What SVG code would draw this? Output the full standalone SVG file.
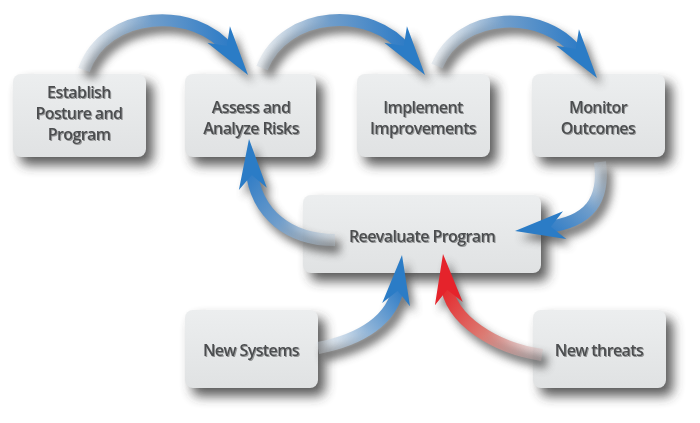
<svg xmlns="http://www.w3.org/2000/svg" width="700" height="423" viewBox="0 0 700 423">
<defs>
  <filter id="bshadow" x="-20%" y="-20%" width="150%" height="160%">
    <feGaussianBlur stdDeviation="6"/>
  </filter>
  <filter id="ashadow" x="-20%" y="-20%" width="150%" height="160%">
    <feGaussianBlur stdDeviation="4.5"/>
  </filter>
  <filter id="tshadow" x="-10%" y="-30%" width="120%" height="160%">
    <feGaussianBlur in="SourceAlpha" stdDeviation="0.6"/>
    <feOffset dx="0.6" dy="0.8" result="o"/>
    <feFlood flood-color="#000" flood-opacity="0.35"/>
    <feComposite in2="o" operator="in"/>
    <feMerge><feMergeNode/><feMergeNode in="SourceGraphic"/></feMerge>
  </filter>
  <linearGradient id="boxfill" x1="0" y1="0" x2="0" y2="1">
    <stop offset="0" stop-color="#eceeef"/>
    <stop offset="1" stop-color="#e0e2e3"/>
  </linearGradient>
  <linearGradient id="g1" gradientUnits="userSpaceOnUse" x1="84" y1="70" x2="230" y2="51">
    <stop offset="0" stop-color="#b9c9d8" stop-opacity="0.3"/>
    <stop offset="0.5" stop-color="#6f9dcb"/>
    <stop offset="1" stop-color="#2f7cc6"/>
  </linearGradient>
  <linearGradient id="g2" gradientUnits="userSpaceOnUse" x1="262" y1="68" x2="407" y2="51">
    <stop offset="0" stop-color="#b9c9d8" stop-opacity="0.3"/>
    <stop offset="0.5" stop-color="#6f9dcb"/>
    <stop offset="1" stop-color="#2f7cc6"/>
  </linearGradient>
  <linearGradient id="g3" gradientUnits="userSpaceOnUse" x1="437" y1="66" x2="579" y2="54">
    <stop offset="0" stop-color="#b9c9d8" stop-opacity="0.3"/>
    <stop offset="0.5" stop-color="#6f9dcb"/>
    <stop offset="1" stop-color="#2f7cc6"/>
  </linearGradient>
  <linearGradient id="g4" gradientUnits="userSpaceOnUse" x1="600" y1="162" x2="545" y2="228">
    <stop offset="0" stop-color="#b9c9d8" stop-opacity="0.3"/>
    <stop offset="0.5" stop-color="#6f9dcb"/>
    <stop offset="1" stop-color="#2f7cc6"/>
  </linearGradient>
  <linearGradient id="g5" gradientUnits="userSpaceOnUse" x1="335" y1="240" x2="251" y2="169">
    <stop offset="0" stop-color="#b9c9d8" stop-opacity="0.3"/>
    <stop offset="0.5" stop-color="#6f9dcb"/>
    <stop offset="1" stop-color="#2f7cc6"/>
  </linearGradient>
  <linearGradient id="g6" gradientUnits="userSpaceOnUse" x1="318" y1="348" x2="398" y2="285">
    <stop offset="0" stop-color="#d6e0ea" stop-opacity="0.3"/>
    <stop offset="0.5" stop-color="#8fb4d8"/>
    <stop offset="1" stop-color="#2f7cc6"/>
  </linearGradient>
  <linearGradient id="g7" gradientUnits="userSpaceOnUse" x1="542" y1="355" x2="446" y2="284">
    <stop offset="0" stop-color="#d8b8b8" stop-opacity="0.3"/>
    <stop offset="0.5" stop-color="#dc7a72"/>
    <stop offset="1" stop-color="#e5282c"/>
  </linearGradient>
  <path id="head" d="M0,0 L-50,-14 L-36,0 L-50,14 Z"/>
  <style>
    .box { fill: url(#boxfill); }
    .bsh { fill: #333; opacity: 0.8; filter: url(#bshadow); }
    .lbl { font-family: "Open Sans", "Liberation Sans", sans-serif; font-weight: 600; font-size: 16px; fill: #4b4d4f; text-anchor: middle; letter-spacing: -0.6px; filter: url(#tshadow); }
    .shaft { fill: none; stroke-width: 12; stroke-linecap: butt; }
    .ash { fill: none; stroke: #444; stroke-width: 13; }
    .blue { fill: #2b7cc6; }
    .red { fill: #e5232b; }
  </style>
</defs>
<rect width="700" height="423" fill="#ffffff"/>

<g id="box-shadows">
  <rect class="bsh" x="20" y="82" width="133" height="83" rx="8"/>
  <rect class="bsh" x="192" y="82" width="131" height="83" rx="8"/>
  <rect class="bsh" x="364" y="82" width="133" height="83" rx="8"/>
  <rect class="bsh" x="539" y="82" width="133" height="83" rx="8"/>
  <rect class="bsh" x="310" y="203" width="238" height="78" rx="8"/>
  <rect class="bsh" x="192" y="318" width="133" height="78" rx="8"/>
  <rect class="bsh" x="540" y="318" width="133" height="78" rx="8"/>
</g>

<g id="establish">
  <rect class="box" x="13" y="74" width="133" height="83" rx="8"/>
  <text class="lbl" x="79" y="98">Establish</text>
  <text class="lbl" x="79" y="119">Posture and</text>
  <text class="lbl" x="79" y="140">Program</text>
</g>
<g id="assess">
  <rect class="box" x="185" y="74" width="131" height="83" rx="8"/>
  <text class="lbl" x="251" y="113">Assess and</text>
  <text class="lbl" x="251" y="134">Analyze Risks</text>
</g>
<g id="implement">
  <rect class="box" x="357" y="74" width="133" height="83" rx="8"/>
  <text class="lbl" x="423" y="113">Implement</text>
  <text class="lbl" x="423" y="134">Improvements</text>
</g>
<g id="monitor">
  <rect class="box" x="532" y="74" width="133" height="83" rx="8"/>
  <text class="lbl" x="598" y="113">Monitor</text>
  <text class="lbl" x="598" y="134">Outcomes</text>
</g>
<g id="reevaluate">
  <rect class="box" x="303" y="195" width="238" height="78" rx="8"/>
  <text class="lbl" x="422" y="242">Reevaluate Program</text>
</g>
<g id="new-systems">
  <rect class="box" x="185" y="310" width="133" height="78" rx="8"/>
  <text class="lbl" x="251" y="356">New Systems</text>
</g>
<g id="new-threats">
  <rect class="box" x="533" y="310" width="133" height="78" rx="8"/>
  <text class="lbl" x="599" y="356">New threats</text>
</g>

<g id="connectors">
  <g id="arrow-shadows" filter="url(#ashadow)" opacity="0.7" transform="translate(5,7)">
    <path class="ash" d="M84,70 C105,10 195,5 230,51"/>
    <use href="#head" fill="#444" transform="translate(248,75) rotate(54)"/>
    <path class="ash" d="M262,68 C285,10 372,5 407,51"/>
    <use href="#head" fill="#444" transform="translate(425,75) rotate(54)"/>
    <path class="ash" d="M437,66 C460,10 545,8 579,54"/>
    <use href="#head" fill="#444" transform="translate(597,78) rotate(54)"/>
    <path class="ash" d="M600,162 C605,200 590,222 545,227.5"/>
    <use href="#head" fill="#444" transform="translate(515,231) rotate(173.3)"/>
    <path class="ash" d="M335,240 C290,240 256,215 251.3,169"/>
    <use href="#head" fill="#444" transform="translate(249,139) rotate(-94.4)"/>
    <path class="ash" d="M318,348 C360,340 394,320 398.4,285"/>
    <use href="#head" fill="#444" transform="translate(402,255) rotate(-83.2)"/>
    <path class="ash" d="M542,355 C495,348 450,320 446.5,284"/>
    <use href="#head" fill="#444" transform="translate(443,254) rotate(-96.7)"/>
  </g>
  <g id="a-establish-assess">
    <path class="shaft" stroke="url(#g1)" d="M84,70 C105,10 195,5 230,51"/>
    <use href="#head" class="blue" transform="translate(248,75) rotate(54)"/>
  </g>
  <g id="a-assess-implement">
    <path class="shaft" stroke="url(#g2)" d="M262,68 C285,10 372,5 407,51"/>
    <use href="#head" class="blue" transform="translate(425,75) rotate(54)"/>
  </g>
  <g id="a-implement-monitor">
    <path class="shaft" stroke="url(#g3)" d="M437,66 C460,10 545,8 579,54"/>
    <use href="#head" class="blue" transform="translate(597,78) rotate(54)"/>
  </g>
  <g id="a-monitor-reevaluate">
    <path class="shaft" stroke="url(#g4)" d="M600,162 C605,200 590,222 545,227.5"/>
    <use href="#head" class="blue" transform="translate(515,231) rotate(173.3)"/>
  </g>
  <g id="a-reevaluate-assess">
    <path class="shaft" stroke="url(#g5)" d="M335,240 C290,240 256,215 251.3,169"/>
    <use href="#head" class="blue" transform="translate(249,139) rotate(-94.4)"/>
  </g>
  <g id="a-newsystems-reevaluate">
    <path class="shaft" stroke="url(#g6)" d="M318,348 C360,340 394,320 398.4,285"/>
    <use href="#head" class="blue" transform="translate(402,255) rotate(-83.2)"/>
  </g>
  <g id="a-newthreats-reevaluate">
    <path class="shaft" stroke="url(#g7)" d="M542,355 C495,348 450,320 446.5,284"/>
    <use href="#head" class="red" transform="translate(443,254) rotate(-96.7)"/>
  </g>
</g>
</svg>
